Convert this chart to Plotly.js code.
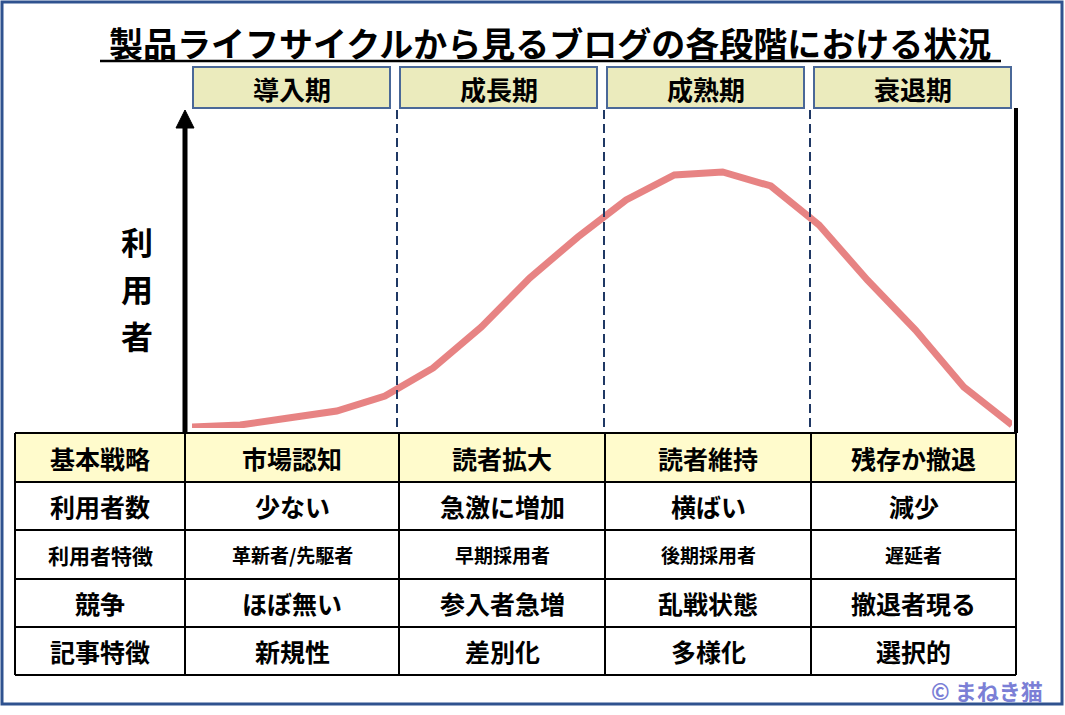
<!DOCTYPE html>
<html><head><meta charset="utf-8">
<script src="https://cdn.plot.ly/plotly-3.0.1.min.js"></script>
<style>html,body{margin:0;padding:0;background:#fff}</style>
</head><body><div id="chart" style="width:1065px;height:715px"></div>
<script>
const titleText = '製品ライフサイクルから見るブログの各段階における状況';
const yLabel = '利用者';
const phases = ['導入期', '成長期', '成熟期', '衰退期'];
const rowLabels = ['基本戦略', '利用者数', '利用者特徴', '競争', '記事特徴'];
const strategy = ['市場認知', '読者拡大', '読者維持', '残存か撤退'];
const userCount = ['少ない', '急激に増加', '横ばい', '減少'];
const userTraits = ['革新者/先駆者', '早期採用者', '後期採用者', '遅延者'];
const competition = ['ほぼ無い', '参入者急増', '乱戦状態', '撤退者現る'];
const articleTraits = ['新規性', '差別化', '多様化', '選択的'];
const copyright = '© まねき猫';
const timeSteps = [0, 1, 2, 3, 4, 5, 6, 7, 8, 9, 10, 11, 12, 13, 14, 15, 16, 17];
const users = [1, 3, 10, 17, 32, 60, 101, 150, 191, 228, 253, 256, 242, 203, 148, 98, 41, 3];

const W = 1065, H = 715;
const px = x => x / W;
const py = y => 1 - y / H;
const FONT = '"Noto Sans CJK JP", "Noto Sans", sans-serif';

const shapes = [];
const annotations = [];

// outer frame
shapes.push({type:'rect', xref:'paper', yref:'paper', x0:px(2), x1:px(1062), y0:py(2), y1:py(704),
  line:{color:'#2F528F', width:3}, fillcolor:'rgba(0,0,0,0)', layer:'below'});
// title underline
shapes.push({type:'line', xref:'paper', yref:'paper', x0:px(100), x1:px(1001), y0:py(61), y1:py(61),
  line:{color:'#000', width:2.5}});
annotations.push({xref:'paper', yref:'paper', x:px(550), y:py(42), xanchor:'center', yanchor:'middle',
  text:titleText, showarrow:false, font:{family:FONT, size:34, color:'#000', weight:700}});

// phase boxes
const colEdges = [15, 185, 399, 605, 811, 1016];
phases.forEach((p, i) => {
  const x0 = 193 + 207 * i, x1 = x0 + 197;
  shapes.push({type:'rect', xref:'paper', yref:'paper', x0:px(x0), x1:px(x1), y0:py(108), y1:py(67),
    fillcolor:'#EBEBBD', line:{color:'#4A6898', width:2}});
  annotations.push({xref:'paper', yref:'paper', x:px((x0 + x1) / 2), y:py(88), xanchor:'center', yanchor:'middle',
    text:p, showarrow:false, font:{family:FONT, size:26, color:'#000', weight:700}});
});

// dashed phase separators
[397, 604, 810].forEach(x => {
  shapes.push({type:'line', xref:'paper', yref:'paper', x0:px(x), x1:px(x), y0:py(110), y1:py(430),
    line:{color:'#1F3864', width:2, dash:'9px,5px'}});
});

// y axis arrow
shapes.push({type:'line', xref:'paper', yref:'paper', x0:px(185), x1:px(185), y0:py(432), y1:py(124),
  line:{color:'#000', width:5}});
shapes.push({type:'path', xref:'paper', yref:'paper',
  path:`M ${px(176)} ${py(128)} L ${px(185)} ${py(110)} L ${px(194)} ${py(128)} Z`,
  fillcolor:'#000', line:{color:'#000', width:1}});
// right boundary
shapes.push({type:'line', xref:'paper', yref:'paper', x0:px(1016), x1:px(1016), y0:py(108), y1:py(433),
  line:{color:'#000', width:4}});

// vertical axis label, one character per line
yLabel.split('').forEach((ch, i) => {
  annotations.push({xref:'paper', yref:'paper', x:px(137), y:py(241 + 47 * i), xanchor:'center', yanchor:'middle',
    text:ch, showarrow:false, font:{family:FONT, size:32, color:'#000', weight:700}});
});

// table
const rowEdges = [433, 482, 530, 579, 627, 675];
shapes.push({type:'rect', xref:'paper', yref:'paper', x0:px(15), x1:px(1016), y0:py(482), y1:py(433),
  fillcolor:'#FFFBCC', line:{width:0}, layer:'below'});
rowEdges.forEach(y => shapes.push({type:'line', xref:'paper', yref:'paper', x0:px(15), x1:px(1016), y0:py(y), y1:py(y),
  line:{color:'#000', width:2}}));
colEdges.forEach(x => shapes.push({type:'line', xref:'paper', yref:'paper', x0:px(x), x1:px(x), y0:py(433), y1:py(675),
  line:{color:'#000', width:2}}));

const rows = [strategy, userCount, userTraits, competition, articleTraits];
const rowSizes = [25, 25, 19, 25, 25];
const labelSizes = [25, 25, 21, 25, 25];
rowLabels.forEach((lab, r) => {
  const yc = (rowEdges[r] + rowEdges[r + 1]) / 2;
  annotations.push({xref:'paper', yref:'paper', x:px((colEdges[0] + colEdges[1]) / 2), y:py(yc), xanchor:'center', yanchor:'middle',
    text:lab, showarrow:false, font:{family:FONT, size:labelSizes[r], color:'#000', weight:700}});
  rows[r].forEach((t, c) => {
    annotations.push({xref:'paper', yref:'paper', x:px((colEdges[c + 1] + colEdges[c + 2]) / 2), y:py(yc), xanchor:'center', yanchor:'middle',
      text:t, showarrow:false, font:{family:FONT, size:rowSizes[r], color:'#000', weight:700}});
  });
});

annotations.push({xref:'paper', yref:'paper', x:px(1045), y:py(690), xanchor:'right', yanchor:'middle',
  text:copyright, showarrow:false, font:{family:FONT, size:22, color:'#7B7FD6', weight:700}});

const trace = {x:timeSteps, y:users, type:'scatter', mode:'lines',
  line:{color:'rgba(228,118,118,0.9)', width:7}, hoverinfo:'skip'};

const layout = {
  width:W, height:H, margin:{l:0, r:0, t:0, b:0},
  paper_bgcolor:'#fff', plot_bgcolor:'rgba(0,0,0,0)', showlegend:false,
  xaxis:{domain:[px(192), px(1012)], range:[0, 17], visible:false, fixedrange:true},
  yaxis:{domain:[py(428), py(110)], range:[0, 318], visible:false, fixedrange:true},
  shapes, annotations
};
Plotly.newPlot('chart', [trace], layout, {staticPlot:true, displayModeBar:false});
</script></body></html>
